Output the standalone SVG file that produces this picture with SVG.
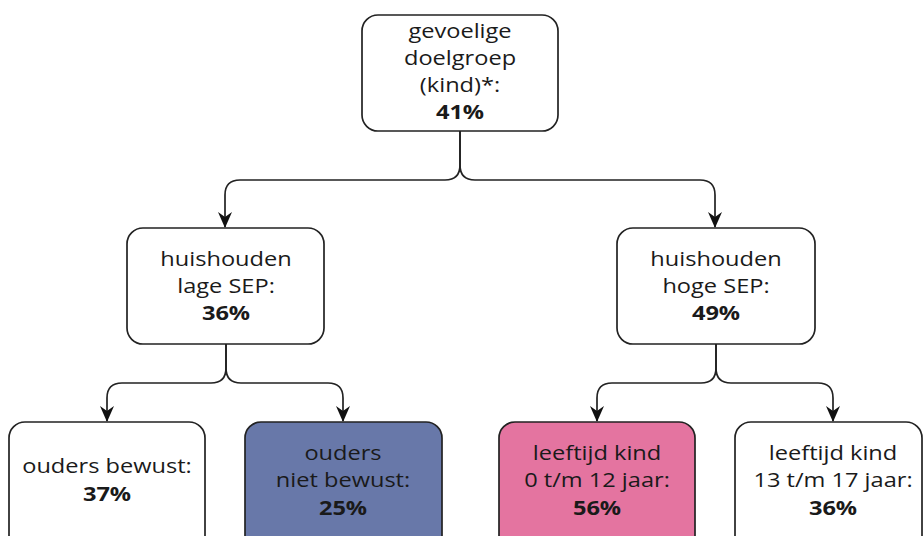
<svg xmlns="http://www.w3.org/2000/svg" width="924" height="536" viewBox="0 0 924 536">
<defs>
<style>
.box{fill:#fff;stroke:#222;stroke-width:1.7}
.blue{fill:#6878a9}
.pink{fill:#e474a0}
.t{font-family:"Open Sans","Noto Sans","DejaVu Sans",sans-serif;font-size:20px;fill:#1a1a1a;text-anchor:middle}
.b{font-weight:bold}
.c{fill:none;stroke:#222;stroke-width:1.7}
</style>
<marker id="ah" viewBox="0 0 16 14" refX="15" refY="7" markerWidth="16" markerHeight="14" markerUnits="userSpaceOnUse" orient="auto">
<path d="M0,0 L5,7 L0,14 L16,7 Z" fill="#111"/>
</marker>
</defs>
<g id="connectors">
<path class="c" d="M460,131 V165 Q460,180 445,180 H240 Q225,180 225,195 V227" marker-end="url(#ah)"/>
<path class="c" d="M460,131 V165 Q460,180 475,180 H700 Q715,180 715,195 V227" marker-end="url(#ah)"/>
<path class="c" d="M226,344 V368 Q226,383 211,383 H122 Q107,383 107,398 V421" marker-end="url(#ah)"/>
<path class="c" d="M226,344 V368 Q226,383 241,383 H328 Q343,383 343,398 V421" marker-end="url(#ah)"/>
<path class="c" d="M716,344 V368 Q716,383 701,383 H612 Q597,383 597,398 V421" marker-end="url(#ah)"/>
<path class="c" d="M716,344 V368 Q716,383 731,383 H818 Q833,383 833,398 V421" marker-end="url(#ah)"/>
</g>
<g id="n-root">
<rect class="box" x="362" y="15" width="196" height="116" rx="16"/>
<text class="t" transform="translate(460,38) scale(1.18,1)">gevoelige</text>
<text class="t" transform="translate(460,65) scale(1.18,1)">doelgroep</text>
<text class="t" transform="translate(460,92) scale(1.18,1)">(kind)*:</text>
<text class="t b" transform="translate(460,119) scale(1.18,1)">41%</text>
</g>
<g id="n-lage">
<rect class="box" x="127" y="228" width="197" height="116" rx="16"/>
<text class="t" transform="translate(226,266) scale(1.18,1)">huishouden</text>
<text class="t" transform="translate(226,293) scale(1.18,1)">lage SEP:</text>
<text class="t b" transform="translate(226,320) scale(1.18,1)">36%</text>
</g>
<g id="n-hoge">
<rect class="box" x="617" y="228" width="198" height="116" rx="16"/>
<text class="t" transform="translate(716,266) scale(1.18,1)">huishouden</text>
<text class="t" transform="translate(716,293) scale(1.18,1)">hoge SEP:</text>
<text class="t b" transform="translate(716,320) scale(1.18,1)">49%</text>
</g>
<g id="n-bewust">
<rect class="box" x="9" y="422" width="196" height="130" rx="16"/>
<text class="t" transform="translate(107,473) scale(1.18,1)">ouders bewust:</text>
<text class="t b" transform="translate(107,501) scale(1.18,1)">37%</text>
</g>
<g id="n-nietbewust">
<rect class="box blue" x="245" y="422" width="197" height="130" rx="16"/>
<text class="t" transform="translate(343,460) scale(1.18,1)">ouders</text>
<text class="t" transform="translate(343,487) scale(1.18,1)">niet bewust:</text>
<text class="t b" transform="translate(343,515) scale(1.18,1)">25%</text>
</g>
<g id="n-jong">
<rect class="box pink" x="499" y="422" width="196" height="130" rx="16"/>
<text class="t" transform="translate(597,460) scale(1.18,1)">leeftijd kind</text>
<text class="t" transform="translate(597,487) scale(1.18,1)">0 t/m 12 jaar:</text>
<text class="t b" transform="translate(597,515) scale(1.18,1)">56%</text>
</g>
<g id="n-oud">
<rect class="box" x="735" y="422" width="187" height="130" rx="16"/>
<text class="t" transform="translate(833,460) scale(1.18,1)">leeftijd kind</text>
<text class="t" transform="translate(833,487) scale(1.18,1)">13 t/m 17 jaar:</text>
<text class="t b" transform="translate(833,515) scale(1.18,1)">36%</text>
</g>
</svg>
